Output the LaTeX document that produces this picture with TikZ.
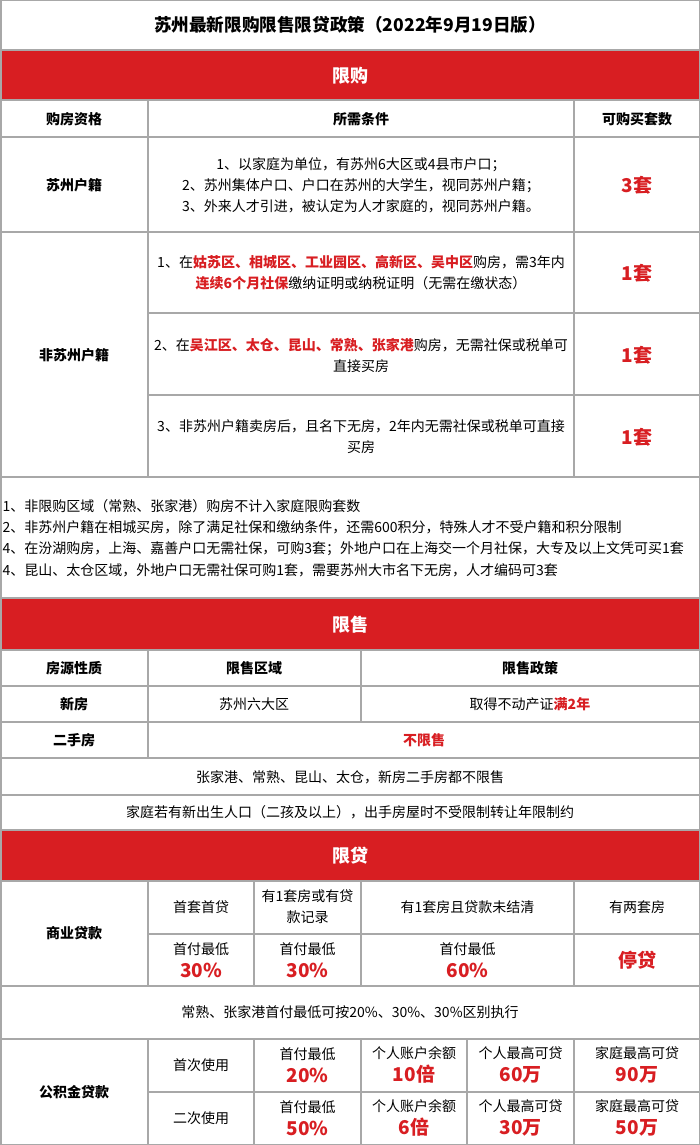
\documentclass[tikz,border=0pt]{standalone}
\usepackage{fontspec}
\setmainfont{Noto Sans CJK SC}
\usepackage{xcolor}
\definecolor{hred}{HTML}{D81E22}
\definecolor{rulegray}{HTML}{A8A8A8}
\tikzset{
  band/.style={text=white,font=\fontsize{18}{20}\selectfont\bfseries},
  head/.style={font=\fontsize{14}{20}\selectfont\bfseries},
  body/.style={font=\fontsize{14}{21}\selectfont,align=center},
  big/.style={text=hred,font=\fontsize{19}{22}\selectfont\bfseries},
  grid/.style={draw=rulegray,line width=1.5pt},
}
\newcommand{\hl}[1]{\textcolor{hred}{\bfseries #1}}
\newcommand{\bignum}[1]{{\color{hred}\fontsize{19}{22}\selectfont\bfseries #1}}
\begin{document}
\begin{tikzpicture}[x=1pt,y=-1pt]
\useasboundingbox (0,0) rectangle (700,1145);
\fill[white] (0,0) rectangle (700,1145);
% red bands
\fill[hred] (0,50) rectangle (700,100);
\fill[hred] (0,598) rectangle (700,650);
\fill[hred] (0,830) rectangle (700,881);
% rules
\foreach \y in {50,100,137,232,477,598,650,686,722,758,795,830,881,986,1039}
  \draw[grid] (0,\y) -- (700,\y);
\foreach \y in {313,395,934,1092}
  \draw[grid] (148,\y) -- (700,\y);
\draw[grid] (148,100) -- (148,477);
\draw[grid] (574,100) -- (574,477);
\draw[grid] (148,650) -- (148,758);
\draw[grid] (361,650) -- (361,722);
\foreach \x in {148,254,361,574}
  \draw[grid] (\x,881) -- (\x,986);
\foreach \x in {148,254,361,467,574}
  \draw[grid] (\x,1039) -- (\x,1145);
\draw[grid] (0.75,0.75) rectangle (699.25,1144.25);

% title
\node (title) at (350,25) {\fontsize{17.6}{20}\selectfont\bfseries 苏州最新限购限售限贷政策（2022年9月19日版）};

% purchase limits
\node[band] (buy) at (350,76) {限购};
\node[head] (qual) at (74,119) {购房资格};
\node[head] (cond) at (361,119) {所需条件};
\node[head] (units) at (637,119) {可购买套数};
\node[head] (local) at (74,185) {苏州户籍};
\node[body] (localc) at (361,185) {1、以家庭为单位，有苏州6大区或4县市户口；\\2、苏州集体户口、户口在苏州的大学生，视同苏州户籍；\\3、外来人才引进，被认定为人才家庭的，视同苏州户籍。};
\node[big] (localn) at (637,185) {3套};
\node[head] (other) at (74,355) {非苏州户籍};
\node[body] (otherc1) at (361,273) {1、在\hl{姑苏区、相城区、工业园区、高新区、吴中区}购房，需3年内\\\hl{连续6个月社保}缴纳证明或纳税证明（无需在缴状态）};
\node[big] (othern1) at (637,273) {1套};
\node[body] (otherc2) at (361,355) {2、在\hl{吴江区、太仓、昆山、常熟、张家港}购房，无需社保或税单可\\直接买房};
\node[big] (othern2) at (637,355) {1套};
\node[body] (otherc3) at (361,437) {3、非苏州户籍卖房后，且名下无房，2年内无需社保或税单可直接\\买房};
\node[big] (othern3) at (637,437) {1套};
\node[body,align=left,anchor=west,font=\fontsize{14}{21.3}\selectfont] (notes) at (-1,538) {1、非限购区域（常熟、张家港）购房不计入家庭限购套数\\2、非苏州户籍在相城买房，除了满足社保和缴纳条件，还需600积分，特殊人才不受户籍和积分限制\\4、在汾湖购房，上海、嘉善户口无需社保，可购3套；外地户口在上海交一个月社保，大专及以上文凭可买1套\\4、昆山、太仓区域，外地户口无需社保可购1套，需要苏州大市名下无房，人才编码可3套};

% sale limits
\node[band] (sell) at (350,625) {限售};
\node[head] (kind) at (74,668) {房源性质};
\node[head] (area) at (254,668) {限售区域};
\node[head] (rule) at (530,668) {限售政策};
\node[head] (newh) at (74,704) {新房};
\node[body] (newa) at (254,704) {苏州六大区};
\node[body] (newr) at (530,704) {取得不动产证\hl{满2年}};
\node[head] (used) at (74,740) {二手房};
\node[body] (usedr) at (424,740) {\hl{不限售}};
\node[body] (sellnote1) at (350,777) {张家港、常熟、昆山、太仓，新房二手房都不限售};
\node[body] (sellnote2) at (350,812) {家庭若有新出生人口（二孩及以上），出手房屋时不受限制转让年限制约};

% loan limits
\node[band] (loan) at (350,856) {限贷};
\node[head] (biz) at (74,933) {商业贷款};
\node[body] (biz1) at (201,907) {首套首贷};
\node[body] (biz2) at (307.5,907) {有1套房或有贷\\款记录};
\node[body] (biz3) at (467.5,907) {有1套房且贷款未结清};
\node[body] (biz4) at (637,907) {有两套房};
\node[body] (bizp1) at (201,960) {首付最低\\[2pt]\bignum{30\%}};
\node[body] (bizp2) at (307.5,960) {首付最低\\[2pt]\bignum{30\%}};
\node[body] (bizp3) at (467.5,960) {首付最低\\[2pt]\bignum{60\%}};
\node[big] (bizp4) at (637,960) {停贷};
\node[body] (biznote) at (350,1012) {常熟、张家港首付最低可按20\%、30\%、30\%区别执行};
\node[head] (fund) at (74,1092) {公积金贷款};
\node[body] (first) at (201,1065) {首次使用};
\node[body] (second) at (201,1118) {二次使用};
\node[body] (f1) at (307.5,1065) {首付最低\\[2pt]\bignum{20\%}};
\node[body] (f2) at (414,1065) {个人账户余额\\[2pt]\bignum{10倍}};
\node[body] (f3) at (520.5,1065) {个人最高可贷\\[2pt]\bignum{60万}};
\node[body] (f4) at (637,1065) {家庭最高可贷\\[2pt]\bignum{90万}};
\node[body] (s1) at (307.5,1118) {首付最低\\[2pt]\bignum{50\%}};
\node[body] (s2) at (414,1118) {个人账户余额\\[2pt]\bignum{6倍}};
\node[body] (s3) at (520.5,1118) {个人最高可贷\\[2pt]\bignum{30万}};
\node[body] (s4) at (637,1118) {家庭最高可贷\\[2pt]\bignum{50万}};
\end{tikzpicture}
\end{document}
